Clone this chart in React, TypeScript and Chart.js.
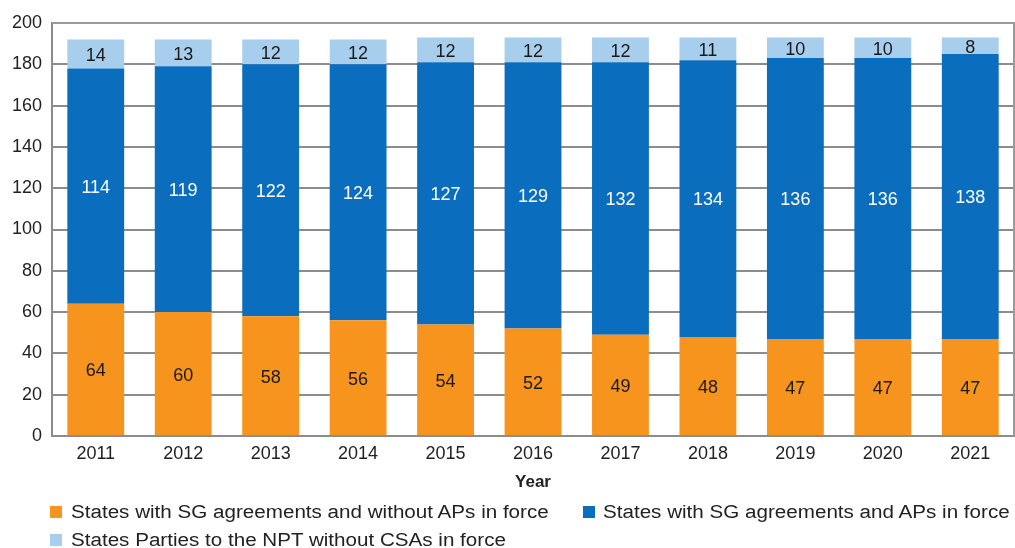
import React, { useEffect, useRef } from "react";
import { Chart, registerables } from "chart.js";

Chart.register(...registerables);

const years = ["2011", "2012", "2013", "2014", "2015", "2016", "2017", "2018", "2019", "2020", "2021"];
const withoutAPs = [64, 60, 58, 56, 54, 52, 49, 48, 47, 47, 47];
const withAPs = [114, 119, 122, 124, 127, 129, 132, 134, 136, 136, 138];
const withoutCSAs = [14, 13, 12, 12, 12, 12, 12, 11, 10, 10, 8];
const yTicks = [0, 20, 40, 60, 80, 100, 120, 140, 160, 180, 200];

const seriesNames = [
  "States with SG agreements and without APs in force",
  "States with SG agreements and APs in force",
  "States Parties to the NPT without CSAs in force",
];
const seriesColors = ["#F7941E", "#0A6DBD", "#A8CEEE"];

const FONT = "'Liberation Sans', Arial, Helvetica, sans-serif";

const labelPlugin = {
  id: "barLabels",
  afterDatasetsDraw(chart: any) {
    const ctx = chart.ctx;
    ctx.save();
    ctx.textAlign = "center";
    ctx.textBaseline = "middle";
    ctx.font = `18px ${FONT}`;
    chart.data.datasets.forEach((ds: any, di: number) => {
      const meta = chart.getDatasetMeta(di);
      meta.data.forEach((bar: any, i: number) => {
        const { x, y, base } = bar.getProps(["x", "y", "base"], true);
        ctx.fillStyle = di === 1 ? "#ffffff" : "#1a1a1a";
        ctx.fillText(String(ds.data[i]), x, (y + base) / 2 + 2);
      });
    });
    ctx.restore();
  },
};

const legendItems = [
  { idx: 0, boxX: 50, textX: 71, y: 512 },
  { idx: 1, boxX: 583, textX: 603, y: 512 },
  { idx: 2, boxX: 50, textX: 71, y: 540 },
];

export default function App() {
  const ref = useRef<HTMLCanvasElement>(null);
  useEffect(() => {
    if (!ref.current) return;
    const chart = new Chart(ref.current, {
      type: "bar",
      data: {
        labels: years,
        datasets: [
          { label: seriesNames[0], data: withoutAPs, backgroundColor: seriesColors[0] },
          { label: seriesNames[1], data: withAPs, backgroundColor: seriesColors[1] },
          { label: seriesNames[2], data: withoutCSAs, backgroundColor: seriesColors[2] },
        ],
      },
      options: {
        animation: false,
        responsive: false,
        maintainAspectRatio: false,
        layout: { padding: { top: 23, left: 2, right: 1, bottom: 55 } },
        datasets: { bar: { categoryPercentage: 1, barPercentage: 0.65 } },
        scales: {
          x: {
            stacked: true,
            grid: { display: false, drawTicks: false },
            border: { display: true, color: "#8c8c8c", width: 2 },
            ticks: { color: "#222", font: { family: FONT, size: 18 }, padding: 7 },
            title: {
              display: true,
              text: "Year",
              color: "#222",
              font: { family: FONT, size: 17, weight: "bold" },
              padding: { top: 1, bottom: 0 },
            },
          },
          y: {
            stacked: true,
            min: 0,
            max: 200,
            afterBuildTicks: (axis: any) => {
              axis.ticks = yTicks.map((v) => ({ value: v }));
            },
            grid: { color: "#8c8c8c", lineWidth: 2, drawTicks: false },
            border: { display: true, color: "#8c8c8c", width: 2 },
            ticks: { color: "#222", font: { family: FONT, size: 18 }, padding: 10 },
          },
        },
        plugins: {
          legend: { display: false },
          tooltip: { enabled: false },
        },
      },
      plugins: [
        labelPlugin,
        {
          id: "frame",
          beforeDatasetsDraw(chart: any) {
            const { ctx, chartArea: a } = chart;
            ctx.save();
            ctx.strokeStyle = "#9a9a9a";
            ctx.lineWidth = 2;
            ctx.beginPath();
            ctx.moveTo(a.left, a.top);
            ctx.lineTo(a.right, a.top);
            ctx.lineTo(a.right, a.bottom);
            ctx.stroke();
            ctx.restore();
          },
        },
      ],
    });
    return () => chart.destroy();
  }, []);
  return (
    <div style={{ position: "fixed", left: 0, top: 0, width: 1015, height: 548, overflow: "hidden", background: "#fff" }}>
      <canvas ref={ref} width={1015} height={548} style={{ display: "block" }} />
      {legendItems.map((it) => (
        <React.Fragment key={it.idx}>
          <div
            style={{
              position: "absolute",
              left: it.boxX,
              top: it.y - 6,
              width: 12,
              height: 12,
              background: seriesColors[it.idx],
            }}
          />
          <div
            style={{
              position: "absolute",
              left: it.textX,
              top: it.y - 12,
              height: 24,
              lineHeight: "24px",
              fontFamily: FONT,
              fontSize: 18,
              color: "#222",
              whiteSpace: "nowrap",
              transform: "scaleX(1.145)",
              transformOrigin: "left center",
            }}
          >
            {seriesNames[it.idx]}
          </div>
        </React.Fragment>
      ))}
    </div>
  );
}
